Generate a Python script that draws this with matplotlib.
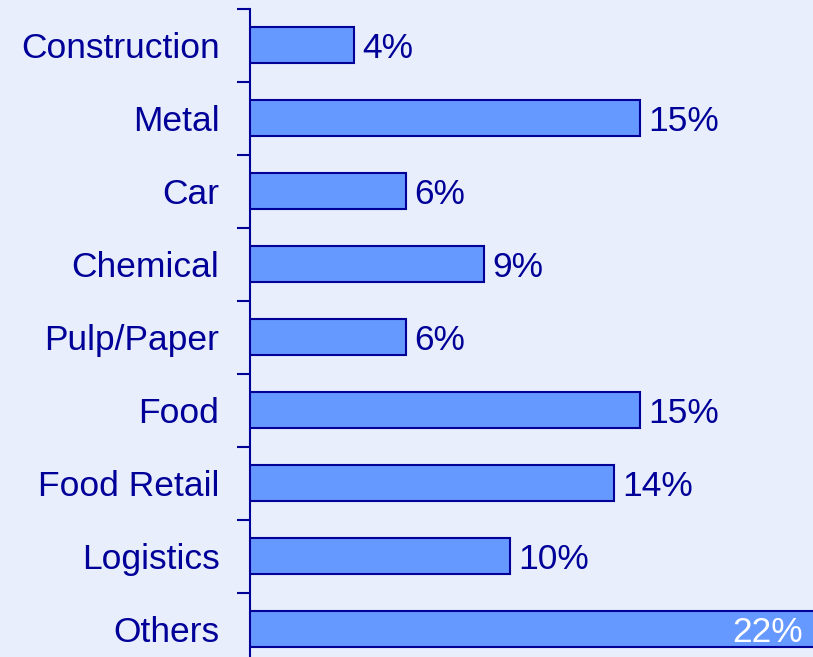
import numpy as np
import matplotlib
matplotlib.use("Agg")
import matplotlib.pyplot as plt

CATEGORIES = ["Construction", "Metal", "Car", "Chemical", "Pulp/Paper",
              "Food", "Food Retail", "Logistics", "Others"]
SHARES = [4, 15, 6, 9, 6, 15, 14, 10, 22]

NAVY = "#000099"
FILL = "#6699FF"
BG = "#E8EEFB"

plt.rcParams["font.family"] = ["Liberation Sans", "DejaVu Sans"]

W, H = 813, 657
fig = plt.figure(figsize=(W / 100, H / 100), dpi=100, facecolor=BG)
left = 250 / W
top_px = 8.5
ax = fig.add_axes([left, 0, 1 - left, (H - top_px) / H])
ax.set_facecolor("none")

y = np.arange(len(CATEGORIES))
ax.barh(y, SHARES, height=0.5, color=FILL, edgecolor=NAVY, linewidth=1.5, zorder=3)

for i, v in enumerate(SHARES):
    if i == len(SHARES) - 1:
        # last bar runs off the chart, label sits inside it
        ax.annotate(f"{v}%", xy=(1, i), xycoords=("axes fraction", "data"),
                    xytext=(-7, 0), textcoords="offset points",
                    ha="right", va="center_baseline", fontsize=25.5, color="white")
    else:
        ax.annotate(f"{v}%", xy=(v, i), xytext=(6, 0), textcoords="offset points",
                    ha="left", va="center_baseline", fontsize=25.5, color=NAVY)

for s in ["top", "right", "bottom"]:
    ax.spines[s].set_visible(False)
ax.spines["left"].set_color(NAVY)
ax.spines["left"].set_linewidth(1.5)

ax.set_xticks([])
ax.set_yticks(y)
ax.set_yticklabels(CATEGORIES)
ax.set_yticks(np.arange(-0.5, len(CATEGORIES) - 0.5, 1), minor=True)
ax.tick_params(axis="y", which="major", length=0, pad=22, labelsize=25.5, labelcolor=NAVY)
ax.tick_params(axis="y", which="minor", length=9.5, width=1.5, color=NAVY)

# limits last, so the tick setters cannot widen them
slot_px = 73.0
ax.set_ylim(-0.5 + (H - top_px) / slot_px, -0.5)
ax.set_xlim(0, (W - 250) / 26)

fig.savefig("out.png", dpi=100, facecolor=BG)
